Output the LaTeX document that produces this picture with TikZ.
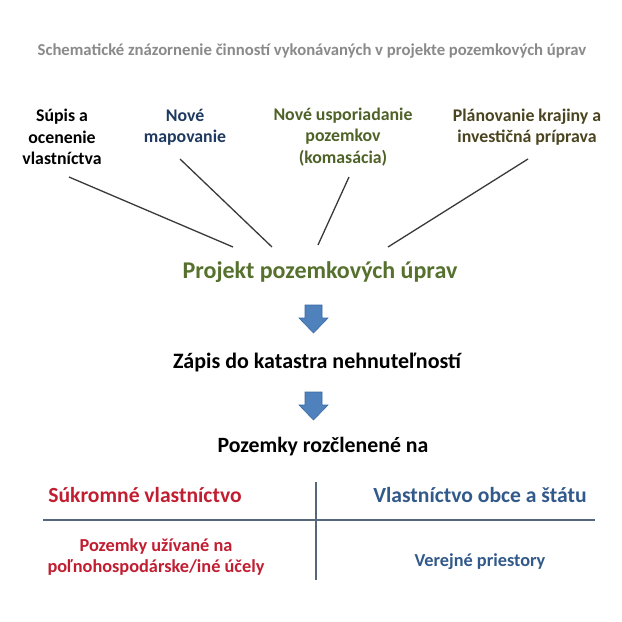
\documentclass[tikz,border=0pt]{standalone}
\usepackage{fontspec}
\setmainfont{Carlito}
\definecolor{titlegray}{HTML}{8A8A8A}
\definecolor{navytxt}{HTML}{1F3A60}
\definecolor{olivetxt}{HTML}{4F6228}
\definecolor{projgreen}{HTML}{56702E}
\definecolor{browntxt}{HTML}{4A4520}
\definecolor{redtxt}{HTML}{C21E32}
\definecolor{bluetxt}{HTML}{31598A}
\definecolor{tableline}{HTML}{56677D}
\definecolor{connline}{HTML}{3A3A3A}
\definecolor{arrowfill}{HTML}{4F81BD}
\definecolor{arrowdraw}{HTML}{3A6AA5}
\begin{document}
\begin{tikzpicture}[x=1pt,y=-1pt,
  lbl/.style={align=center,inner sep=0pt,font=\bfseries\fontsize{17.8}{21.3}\selectfont},
  conn/.style={draw=connline,line width=1.3pt},
  tline/.style={draw=tableline,line width=2pt},
  blockarrow/.style={fill=arrowfill,draw=arrowdraw,line width=0.6pt}]
\useasboundingbox[fill=white] (0,0) rectangle (622,622);
% title
\node[inner sep=0pt,text=titlegray,font=\bfseries\fontsize{16.7}{19}\selectfont] (title) at (312,51)
  {Schematické znázornenie činností vykonávaných v projekte pozemkových úprav};
% top labels
\node[lbl,text=black] (supis) at (62,137) {Súpis a\\ocenenie\\vlastníctva};
\node[lbl,text=navytxt] (mapov) at (185,127) {Nové\\mapovanie};
\node[lbl,text=olivetxt] (usp) at (343,137) {Nové usporiadanie\\pozemkov\\(komasácia)};
\node[lbl,text=browntxt] (plan) at (527,127) {Plánovanie krajiny a\\investičná príprava};
% central
\node[inner sep=0pt,text=projgreen,font=\bfseries\fontsize{24}{28}\selectfont] (proj) at (320,272) {Projekt pozemkových úprav};
% connector endpoints
\coordinate (s1) at (69,177);  \coordinate (e1) at (233,247);
\coordinate (s2) at (180,159); \coordinate (e2) at (272,247);
\coordinate (s3) at (349,177); \coordinate (e3) at (318,245);
\coordinate (s4) at (528,159); \coordinate (e4) at (388,247);
\draw[conn] (s1) -- (e1);
\draw[conn] (s2) -- (e2);
\draw[conn] (s3) -- (e3);
\draw[conn] (s4) -- (e4);
% arrows
\draw[blockarrow] (305,305) -- (322,305) -- (322,318) -- (328,318) -- (313.5,333) -- (299,318) -- (305,318) -- cycle;
\node[inner sep=0pt,font=\bfseries\fontsize{22}{26}\selectfont] (zapis) at (317,362) {Zápis do katastra nehnuteľností};
\draw[blockarrow] (305,392) -- (322,392) -- (322,405) -- (328,405) -- (313.5,420) -- (299,405) -- (305,405) -- cycle;
\node[inner sep=0pt,font=\bfseries\fontsize{21.8}{26}\selectfont] (pozem) at (323,447) {Pozemky rozčlenené na};
% table
\node[inner sep=0pt,text=redtxt,font=\bfseries\fontsize{21.6}{26}\selectfont] (sukr) at (145,495) {Súkromné vlastníctvo};
\node[inner sep=0pt,text=bluetxt,font=\bfseries\fontsize{21.6}{26}\selectfont] (obec) at (480,495) {Vlastníctvo obce a štátu};
\coordinate (hl) at (43,520); \coordinate (hr) at (595,520);
\coordinate (vt) at (316,482); \coordinate (vb) at (316,580);
\draw[tline] (hl) -- (hr);
\draw[tline] (vt) -- (vb);
\node[align=center,inner sep=0pt,text=redtxt,font=\bfseries\fontsize{18.3}{21}\selectfont] (uziv) at (156,557) {Pozemky užívané na\\poľnohospodárske/iné účely};
\node[inner sep=0pt,text=bluetxt,font=\bfseries\fontsize{18.3}{21}\selectfont] (verej) at (480,562) {Verejné priestory};
\end{tikzpicture}
\end{document}
